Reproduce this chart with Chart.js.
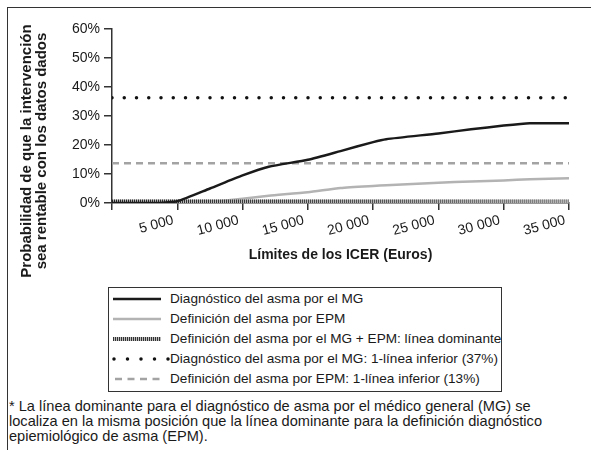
<!DOCTYPE html>
<html>
<head>
<meta charset="utf-8">
<script src="https://cdn.jsdelivr.net/npm/chart.js@4.4.1/dist/chart.umd.min.js"></script>
<style>
  html, body { margin:0; padding:0; background:#fff; }
  body { width:591px; height:450px; position:relative; overflow:hidden; font-family:"Liberation Sans", Arial, sans-serif; color:#1a1a1a; }
  #frame { position:absolute; left:7px; top:7px; width:600px; height:460px; border-left:1.5px solid #333; border-top:1.5px solid #333; }
  #wrap { position:absolute; left:0; top:0; width:591px; height:270px; }
  #ytitle { position:absolute; width:290px; height:30px; left:-112px; top:136px; transform:rotate(-90deg); text-align:center; font-weight:bold; font-size:15px; line-height:15px; white-space:nowrap; }
  #legend { position:absolute; left:108px; top:287px; width:394px; height:105px; border:1px solid #333; box-sizing:border-box; }
  .row { position:absolute; left:0; height:20px; font-size:13.6px; line-height:20px; white-space:nowrap; }
  .row svg { position:absolute; left:2px; top:5px; }
  .row span { position:absolute; left:61px; }
  #note { position:absolute; left:9px; top:399px; font-size:14.6px; line-height:15px; white-space:nowrap; }
</style>
</head>
<body>
<div id="frame"></div>
<div id="wrap"><canvas id="c"></canvas></div>
<div id="ytitle">Probabilidad de que la intervención<br>sea rentable con los datos dados</div>
<div id="legend"></div>
<div id="note">* La línea dominante para el diagnóstico de asma por el médico general (MG) se<br>localiza en la misma posición que la línea dominante para la definición diagnóstico<br>epiemiológico de asma (EPM).</div>
<script>
// ICER thresholds (Euros)
const icer = [0, 2500, 3500, 5000, 7500, 10000, 12000, 15000, 17500, 20000, 21000, 25000, 27500, 30000, 32000, 35000];
// Probability cost-effective (%)
const mgDiagnosis = [0, 0, 0, 0.6, 5, 9.5, 12.5, 14.9, 17.9, 21.0, 22.0, 24.0, 25.4, 26.7, 27.5, 27.5];
const epmDefinition = [0, 0, 0, 0, 0.3, 1.5, 2.5, 3.7, 5.2, 5.9, 6.1, 7.0, 7.4, 7.8, 8.2, 8.5];
const dominantBoth = [0.5, 0.5, 0.5, 0.5, 0.5, 0.5, 0.5, 0.5, 0.5, 0.5, 0.5, 0.5, 0.5, 0.5, 0.5, 0.5];
const mgLowerLine = 36.3;
const epmLowerLine = 13.7;
const xTickValues = [0, 5000, 10000, 15000, 20000, 25000, 30000, 35000];
const xTickLabels = ['', '5 000', '10 000', '15 000', '20 000', '25 000', '30 000', '35 000'];
const yTickLabels = ['0%', '10%', '20%', '30%', '40%', '50%', '60%'];
const seriesNames = [
  'Diagnóstico del asma por el MG',
  'Definición del asma por EPM',
  'Definición del asma por el MG + EPM: línea dominante',
  'Diagnóstico del asma por el MG: 1-línea inferior (37%)',
  'Definición del asma por EPM: 1-línea inferior (13%)'
];
const xTitle = 'Límites de los ICER (Euros)';

const pts = arr => icer.map((x, i) => ({x, y: arr[i]}));
const flat = v => [{x: icer[0], y: v}, {x: icer[icer.length - 1], y: v}];

const FONT = '"Liberation Sans", Arial, sans-serif';
const INK = '#1a1a1a';

const hatchColor = (ctx) => {
  const a = ctx.chart.chartArea;
  if (!a) return '#333';
  const g = ctx.chart.ctx.createLinearGradient(a.left, 0, a.right, 0);
  g.addColorStop(0, '#222');
  g.addColorStop(0.6, '#555');
  g.addColorStop(1, '#888');
  return g;
};

new Chart(document.getElementById('c'), {
  type: 'line',
  data: {
    datasets: [
      {label: seriesNames[0], data: pts(mgDiagnosis), borderColor: '#1a1a1a', borderWidth: 2.5, tension: 0.2},
      {label: seriesNames[2], data: pts(dominantBoth), borderColor: hatchColor, borderWidth: 4, borderDash: [1, 1], tension: 0},
      {label: seriesNames[2] + ' (base)', data: pts(dominantBoth), borderColor: '#b5b5b5', borderWidth: 4, tension: 0},
      {label: seriesNames[1], data: pts(epmDefinition), borderColor: '#b3b3b3', borderWidth: 2.5, tension: 0.2},
      {label: seriesNames[3], data: flat(mgLowerLine), borderColor: '#111', borderWidth: 3.5, borderDash: [0, 12.25], borderCapStyle: 'round'},
      {label: seriesNames[4], data: flat(epmLowerLine), borderColor: '#a3a3a3', borderWidth: 2.5, borderDash: [7, 5]}
    ]
  },
  options: {
    responsive: true,
    maintainAspectRatio: false,
    animation: false,
    elements: {point: {radius: 0, hoverRadius: 0}},
    layout: {padding: {left: 0, top: 29, right: 22, bottom: 0}},
    plugins: {legend: {display: false}, tooltip: {enabled: false}},
    scales: {
      x: {
        type: 'linear', min: 0, max: 35000,
        afterFit: s => { s.height = 67; },
        afterBuildTicks: s => { s.ticks = xTickValues.map(v => ({value: v})); },
        ticks: {
          minRotation: 15, maxRotation: 15, autoSkip: false, padding: 2, labelOffset: -4,
          color: INK, font: {family: FONT, size: 14},
          callback: (v) => { const i = xTickValues.indexOf(v); return i >= 0 ? xTickLabels[i] : ''; }
        },
        grid: {display: true, drawOnChartArea: false, drawTicks: true, tickLength: 7, color: '#333', lineWidth: 1.5},
        border: {display: true, color: '#333', width: 1.5},
        title: {display: true, text: xTitle, color: INK, font: {family: FONT, size: 14, weight: 'bold'}, padding: {top: 4, bottom: 6}}
      },
      y: {
        min: 0, max: 60,
        afterFit: s => { s.width = 112; },
        ticks: {
          stepSize: 10, padding: 4, color: INK, font: {family: FONT, size: 14},
          callback: (v) => yTickLabels[Math.round(v / 10)]
        },
        grid: {display: true, drawOnChartArea: false, drawTicks: true, tickLength: 8, color: '#333', lineWidth: 1.5},
        border: {display: true, color: '#333', width: 1.5}
      }
    }
  }
});

// legend (HTML)
const samples = [
  '<line x1="2" y1="5" x2="50" y2="5" stroke="#1a1a1a" stroke-width="2.5"/>',
  '<line x1="2" y1="5" x2="50" y2="5" stroke="#b3b3b3" stroke-width="2.5"/>',
  '<line x1="2" y1="5" x2="50" y2="5" stroke="#bbb" stroke-width="4"/><line x1="2" y1="5" x2="50" y2="5" stroke="#333" stroke-width="4" stroke-dasharray="1 1"/>',
  '<line x1="3" y1="5" x2="58" y2="5" stroke="#111" stroke-width="3.5" stroke-linecap="round" stroke-dasharray="0 13.5"/>',
  '<line x1="4" y1="5" x2="52" y2="5" stroke="#a3a3a3" stroke-width="2.5" stroke-dasharray="7 5.5"/>'
];
const lg = document.getElementById('legend');
seriesNames.forEach((name, i) => {
  const r = document.createElement('div');
  r.className = 'row';
  r.style.top = (1 + i * 20) + 'px';
  r.innerHTML = '<svg width="60" height="10">' + samples[i] + '</svg><span>' + name + '</span>';
  lg.appendChild(r);
});
</script>
</body>
</html>
